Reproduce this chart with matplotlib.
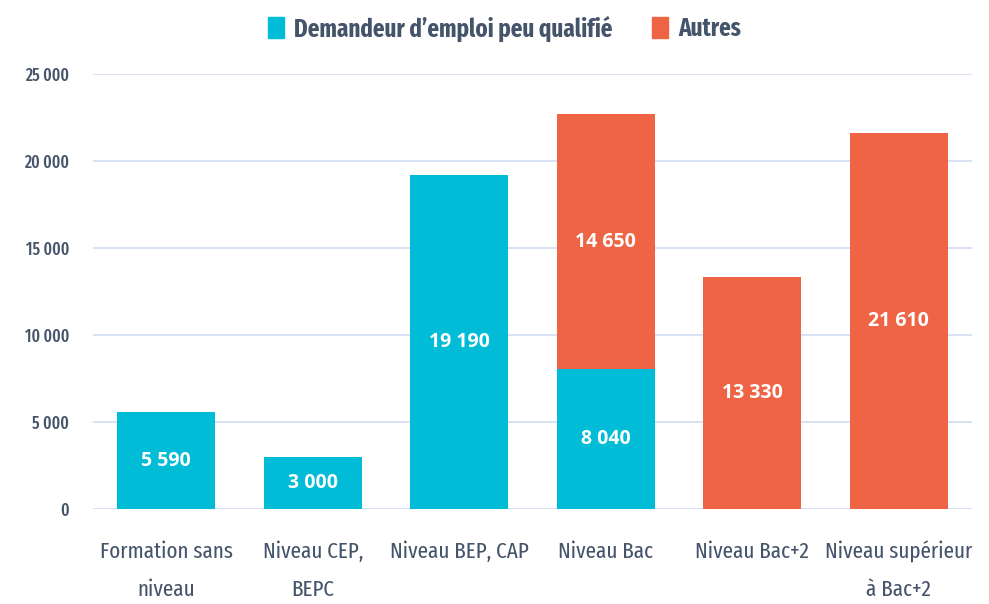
import matplotlib
matplotlib.use("Agg")
import matplotlib.pyplot as plt
from matplotlib.patches import Patch

plt.rcParams['font.family'] = ['Fira Sans Extra Condensed', 'DejaVu Sans']

categories = ["Formation sans\nniveau", "Niveau CEP,\nBEPC", "Niveau BEP, CAP",
              "Niveau Bac", "Niveau Bac+2", "Niveau supérieur\nà Bac+2"]
peu_qualifie = [5590, 3000, 19190, 8040, 0, 0]
autres = [0, 0, 0, 14650, 13330, 21610]
yticks = [0, 5000, 10000, 15000, 20000, 25000]
ytick_labels = ["0", "5 000", "10 000", "15 000", "20 000", "25 000"]

c_blue = "#00BCD6"
c_orange = "#EF6445"
c_text = "#44546A"

fig = plt.figure(figsize=(9.89, 6.04), dpi=100)
ax = fig.add_axes([0.094, 0.157, 0.889, 0.72])

x = range(len(categories))
w = 0.67
ax.bar(x, peu_qualifie, w, color=c_blue, zorder=2)
ax.bar(x, autres, w, bottom=peu_qualifie, color=c_orange, zorder=2)

def fmt(v):
    return f"{v:,}".replace(",", " ")

lab_font = dict(color='white', fontsize=14, fontweight='bold', family=['Open Sans', 'DejaVu Sans'],
                ha='center', va='center')
for i in x:
    if peu_qualifie[i] > 0:
        ax.text(i, peu_qualifie[i] / 2, fmt(peu_qualifie[i]), **lab_font)
    if autres[i] > 0:
        ax.text(i, peu_qualifie[i] + autres[i] / 2, fmt(autres[i]), **lab_font)

ax.set_xlim(-0.5, 5.5)
ax.set_ylim(0, 25000)
ax.set_yticks(yticks)
ax.set_yticklabels(ytick_labels, fontweight='medium')
ax.set_xticks(list(x))
ax.set_xticklabels(categories, linespacing=1.95)
ax.tick_params(axis='both', length=0, colors=c_text)
ax.tick_params(axis='y', labelsize=12.5, pad=17)
ax.tick_params(axis='x', labelsize=16.5, pad=23)
ax.grid(axis='y', color="#D6DFF5", linewidth=1.3, zorder=0)
for s in ax.spines.values():
    s.set_visible(False)

handles = [Patch(color=c_blue, label="Demandeur d’emploi peu qualifié"),
           Patch(color=c_orange, label="Autres")]
leg = fig.legend(handles=handles, loc='upper center', bbox_to_anchor=(0.51, 1.012), ncol=2,
                 frameon=False, handlelength=0.65, handleheight=0.9, handletextpad=0.4,
                 columnspacing=1.6, prop={'size': 18, 'weight': 'bold'})
for t in leg.get_texts():
    t.set_color(c_text)

fig.savefig("out.png", dpi=100)
